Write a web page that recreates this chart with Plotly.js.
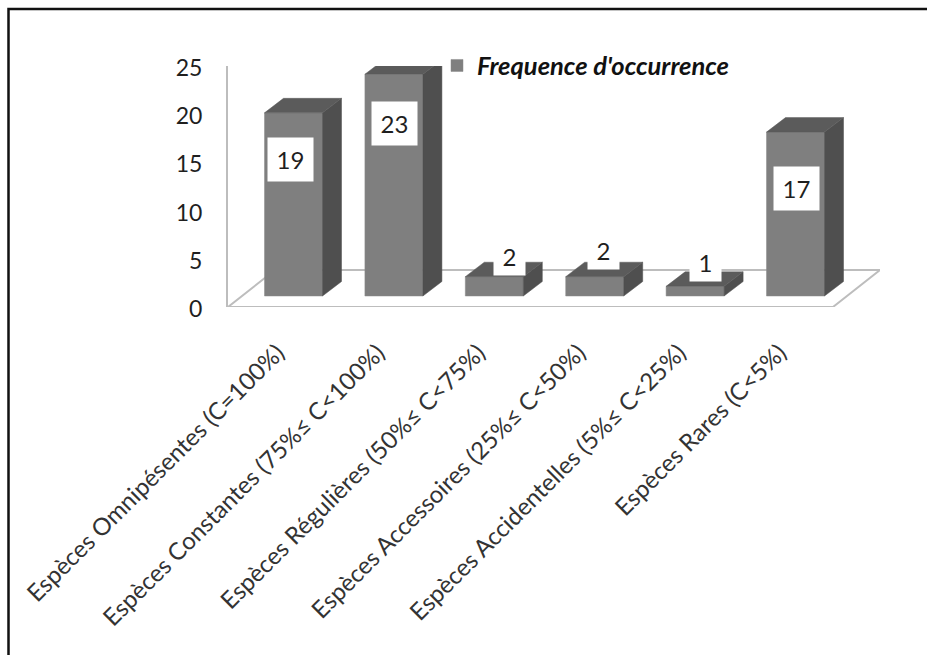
<!DOCTYPE html>
<html><head><meta charset="utf-8">
<script src="https://cdn.plot.ly/plotly-3.0.1.min.js"></script>
<style>html,body{margin:0;padding:0;background:#fff}#c{width:927px;height:655px}</style>
</head><body><div id="c"></div>
<script>
const categories = ["Espèces Omnipésentes (C=100%)","Espèces Constantes (75%≤ C<100%)","Espèces Régulières (50%≤ C<75%)","Espèces Accessoires (25%≤ C<50%)","Espèces Accidentelles (5%≤ C<25%)","Espèces Rares (C<5%)"];
const values = [19,23,2,2,1,17];
const seriesName = "Frequence d'occurrence";
const yTicks = [0,5,10,15,20,25];

// label placement (category-axis x, value-axis y), separate from the data
const labelX = [-0.025,0.005,0.155,0.085,0.105,0.01];
const labelY = [15.25,19.05,5.3,5.95,4.7,12.25];

// layout constants
const W=927,H=655,L=228,R=880,T=66,B=307;
const pxPerCat=100.4, firstCenter=293.5;
const xMin=(L-firstCenter)/pxPerCat, xMax=(R-firstCenter)/pxPerCat;
const pxPerVal=(B-T)/25;
const barWidth=58/pxPerCat, depthX=19/pxPerCat, depthY=14.5/pxPerVal;
const baseY=(B-296)/pxPerVal;
const idx=categories.map((_,i)=>i);
const tops=values.map(v=>v+baseY);
const FONT='Lato,"Noto Sans",sans-serif';

const front={type:'bar',x:idx,y:values,base:baseY,width:barWidth,name:seriesName,
  marker:{color:'#7f7f7f',line:{color:'#8a8a8a',width:0.5}},hoverinfo:'skip',showlegend:true};

function face(xs,ys,color){return {type:'scatter',mode:'lines',x:xs,y:ys,fill:'toself',fillcolor:color,
  line:{color:color,width:0.5},hoverinfo:'skip',showlegend:false};}
const sideFaces=idx.map(i=>{const r=i+barWidth/2;
  return face([r,r+depthX,r+depthX,r,r],[baseY,baseY+depthY,tops[i]+depthY,tops[i],baseY],'#4f4f4f');});
const topFaces=idx.map(i=>{const l=i-barWidth/2,r=i+barWidth/2;
  return face([l,r,r+depthX,l+depthX,l],[tops[i],tops[i],tops[i]+depthY,tops[i]+depthY,tops[i]],'#5b5b5b');});

const px2x=p=>(p-firstCenter)/pxPerCat, px2y=p=>(B-p)/pxPerVal;
const floorPath='M'+xMin+','+0+' L'+px2x(833)+',0 L'+px2x(880)+','+px2y(270)+' L'+px2x(275)+','+px2y(270)+' Z';

const annotations=idx.map(i=>{const two=String(values[i]).length>1;return {
  x:i+labelX[i],y:labelY[i],xref:'x',yref:'y',text:String(values[i]),showarrow:false,
  bgcolor:'#ffffff',width:two?43:29,height:two?41:36,align:'center',valign:'middle',
  font:{family:FONT,size:24,color:'#1f1f1f'}};});

const layout={width:W,height:H,margin:{l:L,r:W-R,t:T,b:H-B,pad:0},paper_bgcolor:'#fff',plot_bgcolor:'rgba(0,0,0,0)',
  font:{family:FONT,color:'#262626'},
  barmode:'overlay',
  xaxis:{type:'linear',range:[xMin,xMax],tickvals:idx,ticktext:categories,tickangle:-45,showgrid:false,zeroline:false,
    showline:false,ticks:'',tickfont:{size:24,color:'#333'},ticklabelstandoff:26,ticklabelshift:-16,automargin:false,ticklabeloverflow:'allow'},
  yaxis:{range:[0,25],tickvals:yTicks,showgrid:false,zeroline:false,showline:true,linecolor:'#bdbdbd',linewidth:2,
    ticks:'',tickfont:{size:23,color:'#1f1f1f'},ticklabelstandoff:19,ticklabelshift:2,automargin:false},
  legend:{x:(437-L)/(R-L),y:1.098,xanchor:'left',yanchor:'top',bgcolor:'rgba(0,0,0,0)',
    font:{size:25.5,style:'italic',weight:'bold',color:'#111'},itemclick:false,itemdoubleclick:false},
  shapes:[
    {type:'path',xref:'x',yref:'y',path:floorPath,fillcolor:'#fff',line:{color:'#bdbdbd',width:2},layer:'below'},
    {type:'path',xref:'paper',yref:'paper',
      path:'M'+((8.5-L)/(R-L))+','+((B-700)/(B-T))+' L'+((8.5-L)/(R-L))+','+((B-9)/(B-T))+' L'+((930-L)/(R-L))+','+((B-9)/(B-T)),
      line:{color:'#111',width:2.5},fillcolor:'rgba(0,0,0,0)',layer:'below'}
  ],
  annotations:annotations,showlegend:true};

Plotly.newPlot('c',[front,...sideFaces,...topFaces],layout,{displayModeBar:false,staticPlot:true});
</script></body></html>
